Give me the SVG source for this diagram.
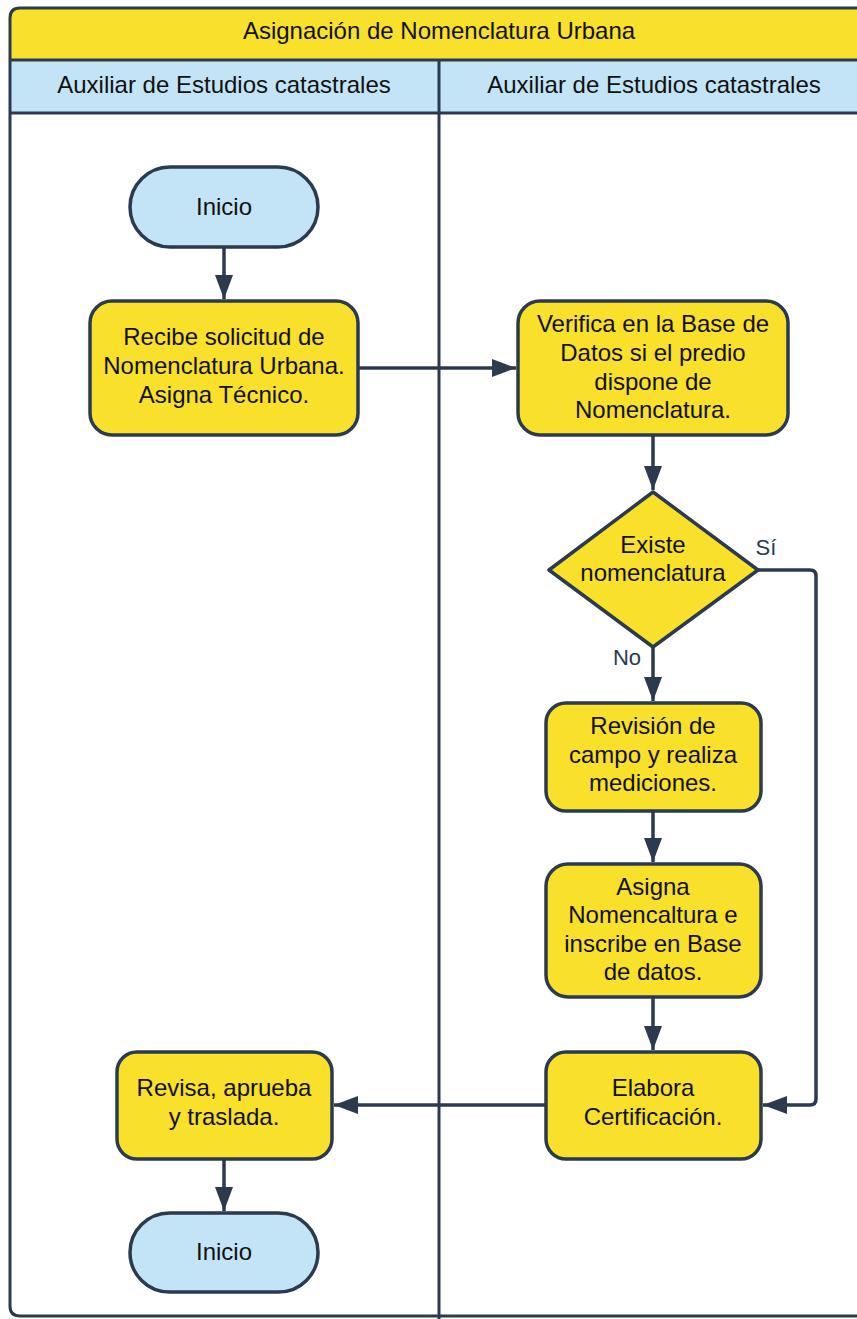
<svg xmlns="http://www.w3.org/2000/svg" width="857" height="1319" viewBox="0 0 857 1319">
  <style>
    .frame { fill: none; stroke: #2B3A4F; stroke-width: 3; }
    .band-title { fill: #F9E02B; }
    .band-head { fill: #C3E4F6; }
    .proc { fill: #F9E02B; stroke: #2B3A4F; stroke-width: 3.5; }
    .term { fill: #C3E4F6; stroke: #2B3A4F; stroke-width: 3.5; }
    .edge { fill: none; stroke: #2B3A4F; stroke-width: 3.5; stroke-linejoin: round; }
    text { font-family: "Liberation Sans", Arial, sans-serif; font-size: 24px; fill: #111; text-anchor: middle; }
    .lbl { fill: #2B3A4F; font-size: 22px; }
  </style>
  <defs>
    <marker id="arrow" markerUnits="userSpaceOnUse" markerWidth="26" markerHeight="20" refX="24" refY="10" orient="auto">
      <path d="M0,1 L24,10 L0,19 Z" fill="#2B3A4F"/>
    </marker>
  </defs>

  <!-- pool frame, title and lane headers -->
  <g id="pool">
    <path class="band-title" d="M10,60 V18 Q10,8 20,8 H870 V60 Z"/>
    <rect class="band-head" x="10" y="60" width="860" height="53"/>
    <path class="frame" d="M870,8 H20 Q10,8 10,18 V1306 Q10,1316 20,1316 H870"/>
    <line class="frame" x1="10" y1="60" x2="870" y2="60"/>
    <line class="frame" x1="10" y1="113" x2="870" y2="113"/>
    <line class="frame" x1="439" y1="60" x2="439" y2="1325"/>
    <text x="439" y="39">Asignación de Nomenclatura Urbana</text>
    <text x="224" y="93">Auxiliar de Estudios catastrales</text>
    <text x="654" y="93">Auxiliar de Estudios catastrales</text>
  </g>

  <!-- connectors -->
  <g id="connectors">
    <line class="edge" x1="224" y1="247" x2="224" y2="299" marker-end="url(#arrow)"/>
    <line class="edge" x1="358" y1="368" x2="516" y2="368" marker-end="url(#arrow)"/>
    <line class="edge" x1="653" y1="435" x2="653" y2="490" marker-end="url(#arrow)"/>
    <line class="edge" x1="653" y1="647" x2="653" y2="701" marker-end="url(#arrow)"/>
    <path class="edge" d="M758,570 H810 Q816,570 816,576 V1099 Q816,1105 810,1105 H763" marker-end="url(#arrow)"/>
    <line class="edge" x1="653" y1="811" x2="653" y2="862" marker-end="url(#arrow)"/>
    <line class="edge" x1="653" y1="997" x2="653" y2="1050" marker-end="url(#arrow)"/>
    <line class="edge" x1="546" y1="1105" x2="334" y2="1105" marker-end="url(#arrow)"/>
    <line class="edge" x1="224" y1="1159" x2="224" y2="1211" marker-end="url(#arrow)"/>
    <text class="lbl" x="766" y="555">Sí</text>
    <text class="lbl" x="627" y="665">No</text>
  </g>

  <g id="inicio">
    <rect class="term" x="130" y="167" width="188" height="80" rx="40"/>
    <text x="224" y="215">Inicio</text>
  </g>

  <g id="recibe">
    <rect class="proc" x="90" y="301" width="268" height="134" rx="22"/>
    <text x="224" y="345">Recibe solicitud de</text>
    <text x="224" y="374">Nomenclatura Urbana.</text>
    <text x="224" y="403">Asigna Técnico.</text>
  </g>

  <g id="verifica">
    <rect class="proc" x="518" y="301" width="270" height="134" rx="22"/>
    <text x="653" y="332">Verifica en la Base de</text>
    <text x="653" y="361">Datos si el predio</text>
    <text x="653" y="390">dispone de</text>
    <text x="653" y="418">Nomenclatura.</text>
  </g>

  <g id="existe">
    <path class="proc" d="M653,492 L758,570 L653,647 L549,570 Z" stroke-linejoin="round"/>
    <text x="653" y="553">Existe</text>
    <text x="653" y="581">nomenclatura</text>
  </g>

  <g id="revision">
    <rect class="proc" x="546" y="703" width="215" height="108" rx="20"/>
    <text x="653" y="734">Revisión de</text>
    <text x="653" y="763">campo y realiza</text>
    <text x="653" y="791">mediciones.</text>
  </g>

  <g id="asigna">
    <rect class="proc" x="546" y="864" width="215" height="133" rx="22"/>
    <text x="653" y="895">Asigna</text>
    <text x="653" y="923">Nomencaltura e</text>
    <text x="653" y="952">inscribe en Base</text>
    <text x="653" y="980">de datos.</text>
  </g>

  <g id="elabora">
    <rect class="proc" x="546" y="1052" width="215" height="107" rx="20"/>
    <text x="653" y="1096">Elabora</text>
    <text x="653" y="1125">Certificación.</text>
  </g>

  <g id="revisa">
    <rect class="proc" x="117" y="1052" width="215" height="107" rx="20"/>
    <text x="224" y="1096">Revisa, aprueba</text>
    <text x="224" y="1125">y traslada.</text>
  </g>

  <g id="fin">
    <rect class="term" x="130" y="1213" width="188" height="79" rx="39.5"/>
    <text x="224" y="1260">Inicio</text>
  </g>
</svg>
